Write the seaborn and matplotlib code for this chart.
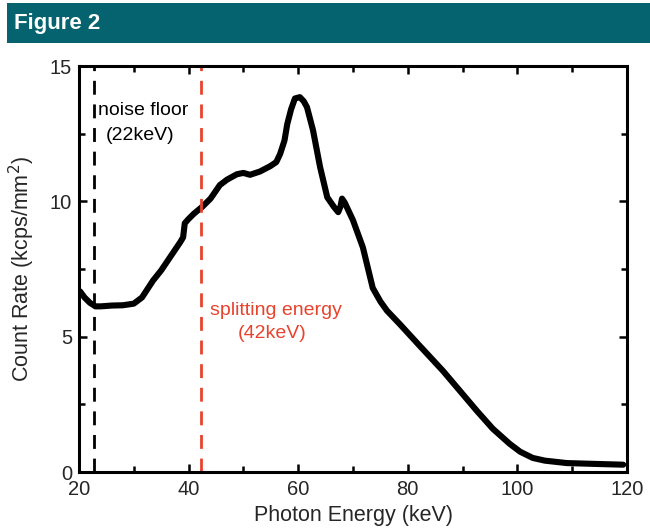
import matplotlib
matplotlib.use("Agg")
import matplotlib.pyplot as plt
import seaborn as sns
import pandas as pd
from matplotlib.ticker import MultipleLocator
from matplotlib.patches import Rectangle

sns.set_theme(style="white")
plt.rcParams['font.family'] = ['Liberation Sans', 'DejaVu Sans']

energy = [20.2, 21, 22, 23, 24, 26, 28, 30, 31.5, 33.5, 35, 37, 38.5, 39, 39.3, 40, 41, 42.5,
          44, 45.7, 47, 48.8, 50, 51.2, 53, 54.9, 56, 56.7, 57.5, 58, 58.7, 59.4, 60.3, 61,
          61.6, 62.7, 64, 65.3, 66.5, 67.3, 67.7, 68, 68.5, 70, 71.8, 73.6, 75, 76.2, 78.6,
          82, 86.4, 89.5, 92.6, 95.5, 98.6, 100.5, 102.8, 105, 109, 114, 119.3]
count_rate = [6.67, 6.45, 6.25, 6.12, 6.12, 6.15, 6.16, 6.22, 6.45, 7.07, 7.45, 8.05, 8.5, 8.67,
              9.19, 9.35, 9.55, 9.8, 10.1, 10.6, 10.8, 11.0, 11.05, 10.98, 11.1, 11.3, 11.45,
              11.75, 12.25, 12.85, 13.4, 13.8, 13.85, 13.7, 13.48, 12.63, 11.26, 10.15, 9.8, 9.6,
              9.8, 10.1, 9.95, 9.3, 8.3, 6.8, 6.3, 5.96, 5.45, 4.7, 3.74, 3.0, 2.26, 1.6, 1.04,
              0.75, 0.52, 0.42, 0.33, 0.3, 0.27]
noise_floor = 22.8
splitting = 42.3

df = pd.DataFrame({"Photon Energy (keV)": energy, "Count Rate": count_rate})

fig = plt.figure(figsize=(6.5, 5.28), dpi=100)
fig.patch.set_facecolor("white")
# header bar
fig.patches.append(Rectangle((7/650, 1-43/528), 1-7/650, 40/528, transform=fig.transFigure,
                             facecolor="#04636e", edgecolor="none"))
fig.text(14/650, 1-23/528, "Figure 2", color="white", fontsize=16, fontweight="bold",
         va="center", ha="left", family=['Liberation Sans Narrow', 'Liberation Sans', 'DejaVu Sans'])

ax = fig.add_axes([79/650, 1-472/528, (627-79)/650, (472-66)/528])
sns.lineplot(data=df, x="Photon Energy (keV)", y="Count Rate", ax=ax, color="black",
             linewidth=4.4, solid_capstyle="round")

ax.axvline(noise_floor, color="black", linestyle=(0, (5, 3.5)), linewidth=2)
ax.axvline(splitting, color="#e8432d", linestyle=(0, (5, 3.5)), linewidth=2)

ax.text(23.5, 13.37, "noise floor", fontsize=14, color="black", ha="left", va="center")
ax.text(24.8, 12.45, "(22keV)", fontsize=14, color="black", ha="left", va="center")
ax.text(43.9, 5.98, "splitting energy", fontsize=14, color="#e8432d", ha="left", va="center")
ax.text(49.0, 5.1, "(42keV)", fontsize=14, color="#e8432d", ha="left", va="center")

ax.set_xlim(20, 120)
ax.set_ylim(0, 15)
ax.xaxis.set_major_locator(MultipleLocator(20))
ax.xaxis.set_minor_locator(MultipleLocator(10))
ax.yaxis.set_major_locator(MultipleLocator(5))
ax.yaxis.set_minor_locator(MultipleLocator(2.5))
ax.tick_params(which="both", direction="in", top=True, right=True, bottom=True, left=True,
               width=1.8, color="black", labelsize=14.5)
ax.tick_params(axis="x", which="major", pad=5.5)
ax.tick_params(axis="y", which="major", pad=5)
ax.tick_params(which="major", length=6)
ax.tick_params(which="minor", length=4)
for s in ax.spines.values():
    s.set_linewidth(2.2)
    s.set_color("black")
ax.set_xlabel("Photon Energy (keV)", fontsize=15.5, labelpad=4.5)
ax.set_ylabel("Count Rate (kcps/mm$^2$)", fontsize=15.5, labelpad=9)

fig.savefig("out.png", dpi=100)
